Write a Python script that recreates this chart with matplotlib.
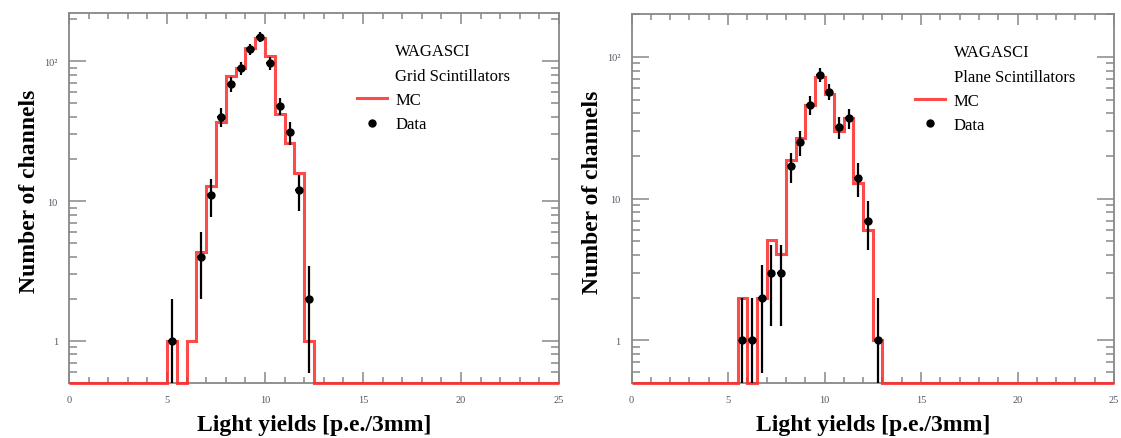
import numpy as np
import matplotlib
matplotlib.use("Agg")
import matplotlib.pyplot as plt
from matplotlib.lines import Line2D
from matplotlib.ticker import MultipleLocator, FixedLocator, FixedFormatter, LogLocator, NullFormatter

plt.rcParams['font.family'] = ['Liberation Serif', 'DejaVu Serif']

# binning of the light yield histograms (0.5 p.e. bins from 0 to 25)
bin_width = 0.5
x_range = (0.0, 25.0)

# grid scintillators: MC expectation per bin, starting at 5.0 p.e.
grid_mc_start = 5.0
grid_mc = [1.0, 0.0, 1.0, 4.3, 12.8, 37.0, 78.0, 90.0, 125.0, 147.0, 110.0, 42.0, 26.0, 16.0, 1.0]
# grid scintillators: measured channels (bin centres, counts)
grid_x = [5.25, 6.75, 7.25, 7.75, 8.25, 8.75, 9.25, 9.75, 10.25, 10.75, 11.25, 11.75, 12.25]
grid_n = [1, 4, 11, 40, 69, 89, 122, 150, 97, 48, 31, 12, 2]

# plane scintillators: MC expectation per bin, starting at 5.5 p.e.
plane_mc_start = 5.5
plane_mc = [2.0, 0.0, 2.0, 5.1, 4.1, 18.6, 27.0, 45.5, 72.0, 55.0, 30.0, 37.0, 13.0, 6.0, 1.0]
# plane scintillators: measured channels
plane_x = [5.75, 6.25, 6.75, 7.25, 7.75, 8.25, 8.75, 9.25, 9.75, 10.25, 10.75, 11.25, 11.75, 12.25, 12.75]
plane_n = [1, 1, 2, 3, 3, 17, 25, 46, 75, 57, 32, 37, 14, 7, 1]

panels = [
    ("Grid Scintillators", grid_mc_start, grid_mc, grid_x, grid_n, (0.5, 222)),
    ("Plane Scintillators", plane_mc_start, plane_mc, plane_x, plane_n, (0.5, 201)),
]

fig = plt.figure(figsize=(11.21, 4.39), dpi=100)
W, H = 1121.0, 439.0
axes_px = [(69, 559, 14, 384), (631.5, 1114, 15, 384)]

edges = np.arange(x_range[0], x_range[1] + bin_width / 2, bin_width)
axcol = '#888888'
tickcol = '#555566'

for (name, start, mc, xs, ns, ylim), (x0, x1, y0, y1) in zip(panels, axes_px):
    ax = fig.add_axes([x0 / W, 1 - y1 / H, (x1 - x0) / W, (y1 - y0) / H])
    ax.set_yscale('log')
    ax.set_xlim(*x_range)
    ax.set_ylim(*ylim)

    # fill the full histogram, empty bins drawn on the frame bottom like ROOT does
    full = np.zeros(len(edges) - 1)
    i0 = int(round((start - x_range[0]) / bin_width))
    full[i0:i0 + len(mc)] = mc
    shown = np.clip(full, ylim[0], None)
    ax.stairs(shown, edges, color='#ff2a2a', lw=2.2, alpha=0.85, baseline=None,
              zorder=2.6, clip_on=False)

    ns = np.array(ns, dtype=float)
    err = np.sqrt(ns)
    ax.errorbar(xs, ns, yerr=err, xerr=0.2, fmt='o', color='black', ms=5,
                elinewidth=1.6, capsize=0, zorder=3)

    # ROOT style frame: grey box, ticks inside on all four sides
    for sp in ax.spines.values():
        sp.set_color(axcol)
        sp.set_linewidth(1.3)
    ax.xaxis.set_major_locator(MultipleLocator(5))
    ax.xaxis.set_minor_locator(MultipleLocator(1))
    ax.yaxis.set_major_locator(FixedLocator([1, 10, 100]))
    ax.yaxis.set_major_formatter(FixedFormatter(['1', '10', '10²']))
    ax.yaxis.set_minor_locator(LogLocator(base=10, subs=np.arange(2, 10)))
    ax.yaxis.set_minor_formatter(NullFormatter())
    ax.tick_params(which='both', direction='in', top=True, right=True, color=axcol, width=1.1)
    ax.tick_params(axis='x', which='major', length=8, pad=9, labelsize=7.5, labelcolor=tickcol)
    ax.tick_params(axis='x', which='minor', length=4)
    ax.tick_params(axis='y', which='major', length=12, pad=8, labelsize=7.5, labelcolor=tickcol)
    ax.tick_params(axis='y', which='minor', length=6)

    ax.set_xlabel('Light yields [p.e./3mm]', fontsize=17, fontweight='bold')
    ax.set_ylabel('Number of channels', fontsize=17, fontweight='bold')
    ax.xaxis.set_label_coords(0.5, -0.085)
    ax.yaxis.set_label_coords(-0.06, 0.52)

    handles = [
        Line2D([], [], color='none'),
        Line2D([], [], color='none'),
        Line2D([], [], color='#ff2a2a', lw=2.2, alpha=0.85),
        Line2D([], [], color='black', marker='o', ms=5, ls='none'),
    ]
    ax.legend(handles, ['WAGASCI', name, 'MC', 'Data'], loc='upper left',
              bbox_to_anchor=(0.588, 0.918), frameon=False, fontsize=12,
              handlelength=1.8, handletextpad=0.5, labelspacing=0.5,
              borderaxespad=0, borderpad=0)

fig.savefig('out.png', dpi=100)
